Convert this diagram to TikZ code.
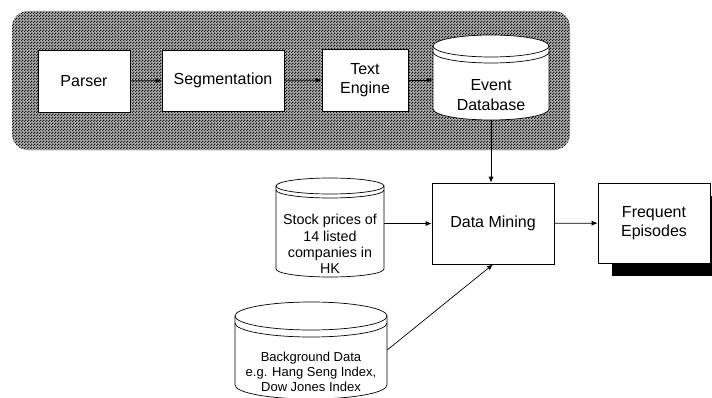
\documentclass[tikz,border=0pt]{standalone}
\usepackage{fontspec}
\setmainfont{Liberation Sans}
\usetikzlibrary{arrows.meta,patterns.meta,shadows}

% fine dot-screen used for the processing block
\tikzdeclarepattern{
  name=dotscreen,
  type=uncolored,
  bottom left={(0pt,0pt)},
  top right={(3pt,3pt)},
  tile size={(3pt,3pt)},
  code={
    \fill (0pt,0pt) rectangle (1.5pt,1.5pt);
    \fill (1.5pt,1.5pt) rectangle (3pt,3pt);
  }
}

% database drum: left, right, top, bottom, cap radius, gap of the second rim line
\newcommand\dbdrum[6]{%
  \filldraw[drumline,fill=white] (#1,#3-#5) -- (#1,#4+#5)
    arc[start angle=180,end angle=360,x radius={(#2-#1)/2},y radius=#5]
    -- (#2,#3-#5)
    arc[start angle=0,end angle=180,x radius={(#2-#1)/2},y radius=#5] -- cycle;
  \draw[drumline] (#1,#3-#5)
    arc[start angle=180,end angle=360,x radius={(#2-#1)/2},y radius=#5];
  \draw[drumline] (#1,#3-#5-#6)
    arc[start angle=180,end angle=360,x radius={(#2-#1)/2},y radius=#5];
}

\tikzset{
  drumline/.style={draw=black, line width=0.7pt},
  box/.style={draw=black, fill=white, line width=0.7pt, align=center,
    inner sep=0pt, font=\fontsize{16}{19.5}\selectfont},
  drumtext/.style={inner sep=0pt, align=center},
  arr/.style={-{Latex[length=6pt,width=5pt]}, line width=0.7pt},
}

\begin{document}
\begin{tikzpicture}[x=1pt,y=1pt]
\useasboundingbox (0,0) rectangle (712,397);
\clip (0,0) rectangle (712,397);

% text-processing stage
\fill[rounded corners=16pt, fill=black!30] (12,247) rectangle (570,386);
\fill[rounded corners=16pt, pattern={dotscreen}, pattern color=black!90] (12,247) rectangle (570,386);

\node[box, minimum width=92pt, minimum height=62pt] (parser) at (84,316) {Parser};
\node[box, minimum width=122pt, minimum height=61pt] (seg) at (223,316.5) {Segmentation};
\node[box, minimum width=86pt, minimum height=62pt] (te) at (365,317) {Text\\Engine};

\dbdrum{433}{549}{362}{277}{11}{6}
\node[drumtext, font=\fontsize{16}{20}\selectfont, minimum width=116pt, minimum height=50pt]
  (edb) at (491,302) {Event\\Database};

% mining stage
\node[box, minimum width=122pt, minimum height=81pt] (dm) at (493,173.5) {Data Mining};
\node[box, minimum width=112pt, minimum height=80pt,
  drop shadow={shadow xshift=14pt, shadow yshift=-13pt, fill=black, opacity=1}]
  (freq) at (654,174) {Frequent\\Episodes};

\dbdrum{276}{384}{219}{120}{8}{4}
\node[drumtext, font=\fontsize{14.3}{16.2}\selectfont, minimum width=108pt, minimum height=66pt]
  (stock) at (330,153) {Stock prices of\\14 listed\\companies in\\HK};

\dbdrum{235}{387}{95}{-2}{14}{7}
\node[drumtext, font=\fontsize{13}{15}\selectfont, minimum width=152pt, minimum height=40pt]
  (bg) at (311,25) {Background Data\\e.g. Hang Seng Index,\\Dow Jones Index};

% connectors
\draw[arr] (parser) -- (seg);
\draw[arr] (seg) -- (te);
\draw[arr] (te.east) -- (te.east -| edb.west);
\draw[arr] (edb.south) -- (edb.south |- dm.north);
\draw[arr] (stock.east |- dm.west) -- (dm.west);
\draw[arr] ([yshift=22pt]bg.east) -- (dm.south);
\draw[arr] (dm) -- (freq);
\end{tikzpicture}
\end{document}
